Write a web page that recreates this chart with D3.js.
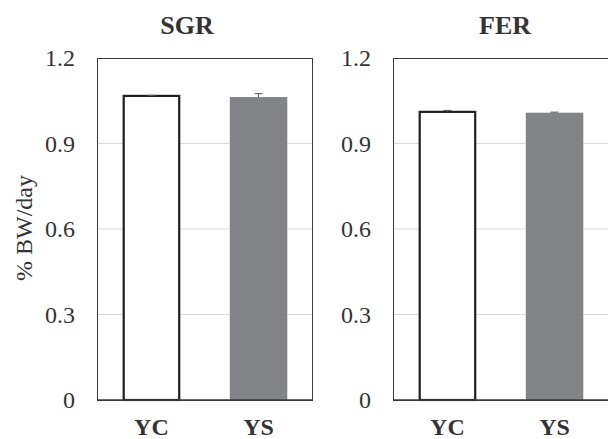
<!DOCTYPE html>
<html>
<head>
<meta charset="utf-8">
<script src="https://cdn.jsdelivr.net/npm/d3@7"></script>
<style>
  body { margin: 0; background: #fff; }
  text { font-family: "Liberation Serif", "Times New Roman", serif; }
</style>
</head>
<body>
<div id="chart"></div>
<script>
// data
let categories = ["YC", "YS"];
let panelNames = ["SGR", "FER"];
let sgrValues = [1.067, 1.063];
let sgrErrors = [0.002, 0.012];
let ferValues = [1.011, 1.008];
let ferErrors = [0.005, 0.002];
let yTicks = [0, 0.3, 0.6, 0.9, 1.2];

let width = 608, height = 439;
let panelLeft = [97, 393];
let panelWidth = 216;
let plotTop = 58, plotBottom = 400;
let titleOffset = [90, 112];

let svg = d3.select("#chart").append("svg")
    .attr("width", width)
    .attr("height", height);

let y = d3.scaleLinear().domain([0, 1.2]).range([plotBottom, plotTop]);

let x = d3.scaleBand()
    .domain(categories)
    .range([0, panelWidth])
    .paddingInner(0.463)
    .paddingOuter(0.24);

let fills = ["#fff", "#838488"];

let panels = [
    {name: panelNames[0], values: sgrValues, errors: sgrErrors},
    {name: panelNames[1], values: ferValues, errors: ferErrors}
];

panels.forEach(function(p, i) {
    let g = svg.append("g").attr("transform", `translate(${panelLeft[i]},0)`);

    // gridlines
    g.append("g")
        .selectAll("line")
        .data(yTicks.filter(t => t > 0 && t < 1.2))
        .join("line")
        .attr("x1", 0).attr("x2", panelWidth)
        .attr("y1", d => y(d)).attr("y2", d => y(d))
        .attr("stroke", "#d9d9d9")
        .attr("stroke-width", 1);

    // bars
    g.append("g")
        .selectAll("rect")
        .data(p.values)
        .join("rect")
        .attr("x", (d, j) => x(categories[j]) + (j === 0 ? 1 : 0))
        .attr("width", (d, j) => x.bandwidth() - (j === 0 ? 2 : 0))
        .attr("y", d => y(d))
        .attr("height", d => y(0) - y(d))
        .attr("fill", (d, j) => fills[j])
        .attr("stroke", (d, j) => j === 0 ? "#1e1e1e" : "none")
        .attr("stroke-width", 2.2);

    // error bars (upper half only)
    let eb = g.append("g").attr("stroke", "#555").attr("stroke-width", 1);
    p.values.forEach(function(v, j) {
        let cx = x(categories[j]) + x.bandwidth() / 2;
        eb.append("line")
            .attr("x1", cx).attr("x2", cx)
            .attr("y1", y(v)).attr("y2", y(v + p.errors[j]));
        eb.append("line")
            .attr("x1", cx - 4).attr("x2", cx + 4)
            .attr("y1", y(v + p.errors[j])).attr("y2", y(v + p.errors[j]));
    });

    // frame
    g.append("rect")
        .attr("x", 0.5).attr("y", plotTop + 0.5)
        .attr("width", panelWidth - 1).attr("height", plotBottom - plotTop)
        .attr("fill", "none")
        .attr("stroke", "#3a3a3a")
        .attr("stroke-width", 1);
    g.append("line")
        .attr("x1", 0).attr("x2", panelWidth)
        .attr("y1", plotBottom).attr("y2", plotBottom)
        .attr("stroke", "#3a3a3a")
        .attr("stroke-width", 1.5);

    // y axis labels
    let yAxis = d3.axisLeft(y)
        .tickValues(yTicks)
        .tickFormat(d => d === 0 ? "0" : d3.format(".1f")(d))
        .tickSize(0)
        .tickPadding(22);
    g.append("g")
        .call(yAxis)
        .call(a => a.select(".domain").remove())
        .call(a => a.selectAll("text")
            .attr("font-family", "Liberation Serif")
            .attr("font-size", 24)
            .attr("fill", "#333"));

    // x labels
    g.append("g")
        .selectAll("text")
        .data(categories)
        .join("text")
        .attr("x", d => x(d) + x.bandwidth() / 2)
        .attr("y", 435)
        .attr("text-anchor", "middle")
        .attr("font-size", 24)
        .attr("font-weight", "bold")
        .attr("fill", "#333")
        .text(d => d);

    // title
    g.append("text")
        .attr("x", titleOffset[i])
        .attr("y", 34)
        .attr("text-anchor", "middle")
        .attr("font-size", 26)
        .attr("font-weight", "bold")
        .attr("fill", "#333")
        .text(p.name);
});

// y axis title
svg.append("text")
    .attr("transform", "translate(32,228) rotate(-90)")
    .attr("text-anchor", "middle")
    .attr("font-size", 24)
    .attr("fill", "#333")
    .text("% BW/day");
</script>
</body>
</html>
